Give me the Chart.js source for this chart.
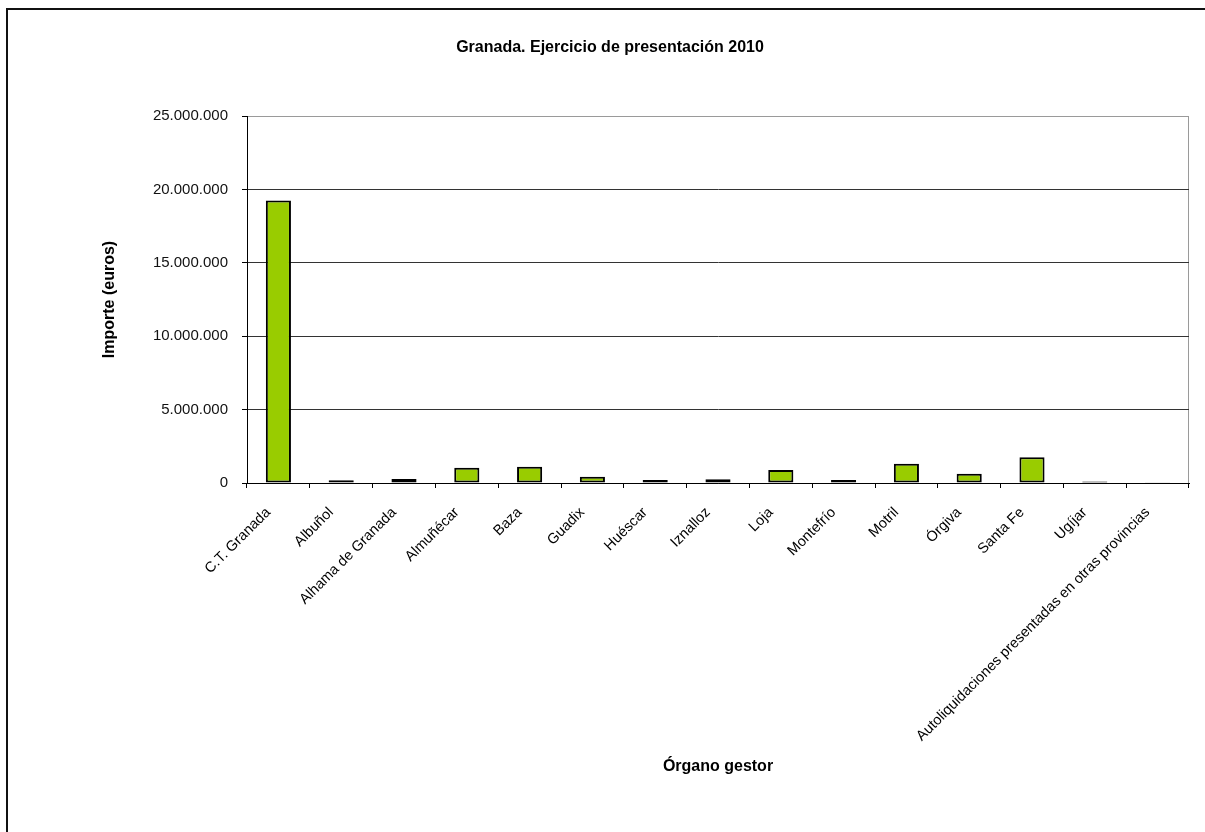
<!DOCTYPE html>
<html>
<head>
<meta charset="utf-8">
<script src="https://cdn.jsdelivr.net/npm/chart.js@4.4.0/dist/chart.umd.min.js"></script>
<style>
  html, body { margin: 0; padding: 0; background: #fff; overflow: hidden; }
  #frame { position: absolute; left: 6px; top: 8px; width: 1300px; height: 900px;
           border-left: 2px solid #111; border-top: 2px solid #111; }
  #chart-bars { position: absolute; left: 0; top: 0; }
</style>
</head>
<body>
<div id="frame"></div>
<canvas id="chart-bars" width="1205" height="832"></canvas>
<script>
var organos = ["C.T. Granada", "Albuñol", "Alhama de Granada", "Almuñécar", "Baza", "Guadix",
  "Huéscar", "Iznalloz", "Loja", "Montefrío", "Motril", "Órgiva", "Santa Fe", "Ugíjar",
  "Autoliquidaciones presentadas en otras provincias"];
var importes = [19250000, 180000, 270000, 1040000, 1110000, 430000,
  200000, 250000, 890000, 200000, 1310000, 630000, 1750000, 100000, 50000];
var yTicks = [0, 5000000, 10000000, 15000000, 20000000, 25000000];

var chartTitle = "Granada. Ejercicio de presentación 2010";
var yTitle = "Importe (euros)";
var xTitle = "Órgano gestor";

function formatEs(v) {
  return String(v).replace(/\B(?=(\d{3})+(?!\d))/g, ".");
}

// grey frame round the plot area, drawn under the grid
var plotFrame = {
  id: "plotFrame",
  beforeDraw: function(chart) {
    var a = chart.chartArea, c = chart.ctx;
    c.save();
    c.strokeStyle = "#9a9a9a";
    c.lineWidth = 1;
    c.strokeRect(a.left + 0.5, a.top + 0.5, a.right - a.left - 1, a.bottom - a.top);
    c.restore();
  }
};

var boldFont = { family: "Liberation Sans", size: 16, weight: "bold", lineHeight: 1.2 };

var ctx = document.getElementById("chart-bars").getContext("2d");

new Chart(ctx, {
  type: "bar",
  data: {
    labels: organos,
    datasets: [{
      label: "Importe",
      data: importes,
      backgroundColor: "#99cc00",
      borderColor: "#000",
      borderWidth: 2,
      borderSkipped: false,
      barPercentage: 0.4,
      categoryPercentage: 1.0
    }]
  },
  options: {
    responsive: false,
    animation: false,
    devicePixelRatio: 1,
    layout: { padding: { left: 31, top: 0, right: 16, bottom: 0 } },
    plugins: {
      legend: { display: false },
      tooltip: { enabled: false },
      title: {
        display: true,
        text: chartTitle,
        color: "#000",
        font: boldFont,
        padding: { top: 37.9, bottom: 58.9 }
      }
    },
    scales: {
      x: {
        afterFit: function(scale) { scale.height = 349; },
        grid: {
          display: true,
          drawOnChartArea: false,
          drawTicks: true,
          tickLength: 5,
          color: "#000",
          offset: true
        },
        border: { color: "#000", width: 1 },
        ticks: {
          color: "#000",
          minRotation: 45,
          maxRotation: 45,
          autoSkip: false,
          padding: 16,
          labelOffset: -10,
          font: { family: "Liberation Sans", size: 14.5 }
        },
        title: {
          display: true,
          text: xTitle,
          color: "#000",
          font: boldFont,
          padding: { top: 0, bottom: 55.4 }
        }
      },
      y: {
        min: 0,
        max: 25000000,
        afterFit: function(scale) { scale.width = 216; },
        afterBuildTicks: function(scale) {
          scale.ticks = yTicks.map(function(v) { return { value: v }; });
        },
        grid: {
          display: true,
          drawOnChartArea: true,
          drawTicks: true,
          tickLength: 5,
          tickColor: "#000",
          color: function(c) {
            if (c.tick && c.tick.value === 25000000) return "#9a9a9a";
            return "#333";
          }
        },
        border: { color: "#000", width: 1 },
        ticks: {
          color: "#111",
          padding: 14,
          font: { family: "Liberation Sans", size: 15 },
          callback: function(value) { return formatEs(value); }
        },
        title: {
          display: true,
          text: yTitle,
          color: "#000",
          font: boldFont,
          padding: { top: 69.4, bottom: 0 }
        }
      }
    }
  },
  plugins: [plotFrame]
});
</script>
</body>
</html>
